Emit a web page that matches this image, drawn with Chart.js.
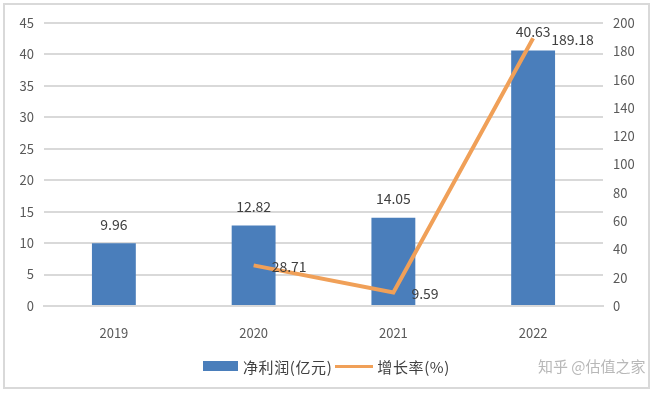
<!DOCTYPE html>
<html>
<head>
<meta charset="utf-8">
<script src="https://cdn.jsdelivr.net/npm/chart.js@4"></script>
<style>
  html, body { margin: 0; padding: 0; background: #fff; }
  #wrap { position: relative; width: 657px; height: 396px; }
  #frame {
    position: absolute; left: 3px; top: 3px; width: 647px; height: 386px;
    border: 2px solid #d9d9d9; box-sizing: border-box;
  }
  canvas { position: absolute; left: 0; top: 0; }
  .legend {
    position: absolute; top: 356px; left: 203px; height: 20px;
    font: 15px "Noto Sans CJK SC", sans-serif; color: #404040;
    display: flex; align-items: center; white-space: nowrap;
  }
  .legend span { letter-spacing: 0.6px; }
  .swatch-bar { width: 35px; height: 10px; background: #4a7ebb; margin-right: 5px; }
  .swatch-line { width: 38px; height: 3px; background: #f0a058; margin: 0 4px 0 3px; }
  .mark {
    position: absolute; top: 355px; left: 538px;
    font: 15px "Noto Sans CJK SC", sans-serif; color: #b8b8b8; white-space: nowrap;
  }
</style>
</head>
<body>
<div id="wrap">
  <div id="frame"></div>
  <canvas id="chart" width="657" height="396"></canvas>
  <div class="legend">
    <div class="swatch-bar"></div><span>净利润(亿元)</span>
    <div class="swatch-line"></div><span>增长率(%)</span>
  </div>
  <div class="mark">知乎 @估值之家</div>
</div>
<script>
const years = ["2019", "2020", "2021", "2022"];
const netProfit = [9.96, 12.82, 14.05, 40.63];   // 亿元
const growthRate = [null, 28.71, 9.59, 189.18];  // %
const leftTicks = [0, 5, 10, 15, 20, 25, 30, 35, 40, 45];
const rightTicks = [0, 20, 40, 60, 80, 100, 120, 140, 160, 180, 200];

const tickFont = { family: "'Noto Sans CJK SC', sans-serif", size: 13 };

// draw the value labels at each element's position
const valueLabels = {
  id: "valueLabels",
  afterDatasetsDraw(chart) {
    const ctx = chart.ctx;
    ctx.save();
    ctx.font = "14px 'Noto Sans CJK SC', sans-serif";
    ctx.fillStyle = "#404040";
    chart.data.datasets.forEach((ds, i) => {
      const meta = chart.getDatasetMeta(i);
      meta.data.forEach((el, j) => {
        const v = ds.data[j];
        if (v == null) return;
        if (ds.type === "bar") {
          ctx.textAlign = "center";
          ctx.textBaseline = "middle";
          ctx.fillText(v.toFixed(2), el.x, el.y - 19);
        } else {
          ctx.textAlign = "left";
          ctx.textBaseline = "middle";
          ctx.fillText(v.toFixed(2), el.x + 18, el.y + 1);
        }
      });
    });
    ctx.restore();
  }
};

new Chart(document.getElementById("chart").getContext("2d"), {
  data: {
    labels: years,
    datasets: [
      {
        type: "line",
        label: "增长率(%)",
        data: growthRate,
        yAxisID: "y1",
        borderColor: "#f0a058",
        borderWidth: 4,
        pointRadius: 0,
        tension: 0,
        order: 0
      },
      {
        type: "bar",
        label: "净利润(亿元)",
        data: netProfit,
        yAxisID: "y",
        backgroundColor: "#4a7ebb",
        barPercentage: 0.314,
        categoryPercentage: 1,
        order: 1
      }
    ]
  },
  options: {
    responsive: false,
    animation: false,
    layout: { padding: { left: 5, right: 15, top: 23, bottom: 50 } },
    plugins: { legend: { display: false }, tooltip: { enabled: false } },
    scales: {
      x: {
        grid: { display: false },
        border: { color: "#d9d9d9", width: 2 },
        ticks: { color: "#595959", font: tickFont, padding: 11 },
        afterFit(s) { s.height = 40; }
      },
      y: {
        position: "left",
        min: 0, max: 45,
        afterBuildTicks(s) { s.ticks = leftTicks.map(v => ({ value: v })); },
        grid: { color: "#d9d9d9", lineWidth: 2, drawTicks: false },
        border: { display: false },
        ticks: { color: "#595959", font: tickFont, padding: 10 },
        afterFit(s) { s.width = 39; }
      },
      y1: {
        position: "right",
        min: 0, max: 200,
        afterBuildTicks(s) { s.ticks = rightTicks.map(v => ({ value: v })); },
        grid: { display: false, drawTicks: false },
        border: { display: false },
        ticks: { color: "#595959", font: tickFont, padding: 10 },
        afterFit(s) { s.width = 39; }
      }
    }
  },
  plugins: [valueLabels]
});
</script>
</body>
</html>
